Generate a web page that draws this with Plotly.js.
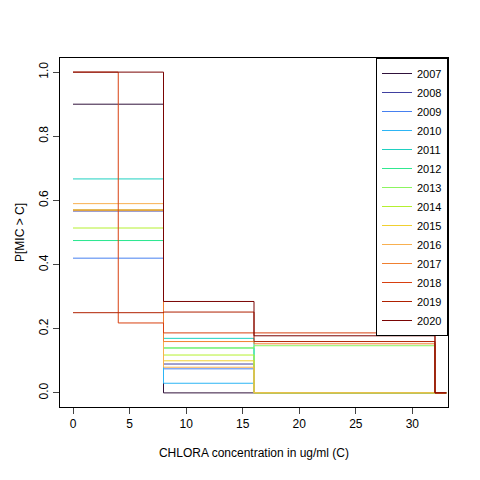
<!DOCTYPE html>
<html>
<head>
<meta charset="utf-8">
<script src="https://cdn.plot.ly/plotly-3.0.1.min.js"></script>
<style>body{margin:0;background:#fff}</style>
</head>
<body>
<div id="plotArea" style="width:480px;height:480px"></div>
<script>
// breakpoints of the step functions (ug/ml)
const breaks = [0, 4, 8, 16, 32, 33];
const years = ['2007','2008','2009','2010','2011','2012','2013','2014','2015','2016','2017','2018','2019','2020'];
const colors = ['#30123B','#4040A0','#4680F0','#2DB5F5','#1FD0C0','#30E890','#8CF560','#B5F030',
                '#F0D030','#F8B050','#F08030','#D84010','#B02000','#7A0403'];
// P[MIC > C] on [0,4), [4,8), [8,16), [16,32), then 0
const probs = [
    [0.90, 0.90, 0.00, 0.00],
    [0.567, 0.567, 0.09, 0.00],
    [0.42, 0.42, 0.075, 0.00],
    [0.475, 0.475, 0.03, 0.00],
    [0.667, 0.667, 0.17, 0.00],
    [0.475, 0.475, 0.14, 0.00],
    [0.57, 0.57, 0.14, 0.147],
    [0.514, 0.514, 0.118, 0.00],
    [0.57, 0.57, 0.10, 0.00],
    [0.59, 0.59, 0.08, 0.00],
    [0.57, 0.57, 0.16, 0.153],
    [1.00, 0.218, 0.187, 0.187],
    [0.25, 0.25, 0.252, 0.16],
    [1.00, 1.00, 0.285, 0.178]
];

let traces = years.map((y, i) => ({
    x: breaks,
    y: probs[i].concat([0, 0]),
    type: 'scatter', mode: 'lines',
    line: {shape: 'hv', color: colors[i], width: 1},
    name: y
}));

let axisFont = {family: 'Liberation Sans, Arial, sans-serif', size: 12, color: '#000'};
let layout = {
    width: 480, height: 480,
    paper_bgcolor: '#fff', plot_bgcolor: '#fff',
    margin: {l: 60, r: 32, t: 58, b: 73},
    font: axisFont,
    xaxis: {
        range: [-1.15, 33.15], tickvals: [0,5,10,15,20,25,30], ticks: 'outside', ticklen: 6,
        showgrid: false, zeroline: false, showline: true, mirror: true, linecolor: '#000',
        title: {text: 'CHLORA concentration in ug/ml (C)', font: axisFont, standoff: 18}
    },
    yaxis: {
        range: [-0.044, 1.044], tickvals: [0,0.2,0.4,0.6,0.8,1.0], ticktext: ['0.0','0.2','0.4','0.6','0.8','1.0'],
        tickangle: -90, ticks: 'outside', ticklen: 6,
        showgrid: false, zeroline: false, showline: true, mirror: true, linecolor: '#000',
        title: {text: 'P[MIC > C]', font: axisFont, standoff: 10}
    },
    legend: {
        x: 1, xanchor: 'right', y: 1, yanchor: 'top',
        bordercolor: '#000', borderwidth: 1, bgcolor: '#fff',
        font: {family: 'Liberation Sans, Arial, sans-serif', size: 11}, tracegroupgap: 0
    },
    showlegend: true
};

Plotly.newPlot('plotArea', traces, layout, {displayModeBar: false, staticPlot: true});
</script>
</body>
</html>
